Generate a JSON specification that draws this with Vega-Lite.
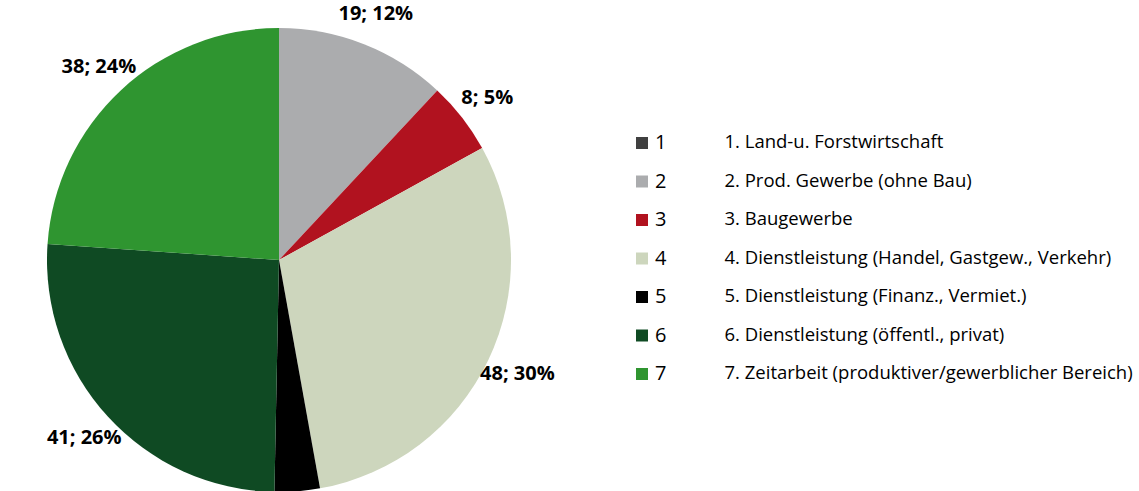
{
  "$schema": "https://vega.github.io/schema/vega-lite/v6.json",
  "width": 558,
  "height": 491,
  "autosize": {"type": "none"},
  "padding": {"left": 0, "top": 0, "right": 581, "bottom": 0},
  "config": {"view": {"stroke": null}, "font": "Open Sans"},
  "data": {
    "values": [
      {"cat": "1", "desc": "1.  Land-u. Forstwirtschaft", "value": 0, "label": ""},
      {"cat": "2", "desc": "2. Prod. Gewerbe (ohne Bau)", "value": 19, "label": "19; 12%"},
      {"cat": "3", "desc": "3. Baugewerbe", "value": 8, "label": "8; 5%"},
      {"cat": "4", "desc": "4. Dienstleistung (Handel, Gastgew., Verkehr)", "value": 48, "label": "48; 30%"},
      {"cat": "5", "desc": "5. Dienstleistung (Finanz., Vermiet.)", "value": 5, "label": ""},
      {"cat": "6", "desc": "6. Dienstleistung (öffentl., privat)", "value": 41, "label": "41; 26%"},
      {"cat": "7", "desc": "7. Zeitarbeit (produktiver/gewerblicher Bereich)", "value": 38, "label": "38; 24%"}
    ]
  },
  "encoding": {
    "theta": {"field": "value", "type": "quantitative", "stack": true},
    "order": {"field": "cat", "type": "ordinal"}
  },
  "layer": [
    {
      "mark": {"type": "arc", "radius": 232, "yOffset": 14.5, "strokeWidth": 0},
      "encoding": {
        "color": {
          "field": "cat",
          "type": "nominal",
          "scale": {
            "domain": ["1", "2", "3", "4", "5", "6", "7"],
            "range": ["#404040", "#ABACAE", "#B1121F", "#CDD6BD", "#000000", "#0F4A23", "#2F9530"]
          },
          "legend": {
            "orient": "none",
            "legendX": 632,
            "legendY": 133,
            "title": null,
            "padding": 0,
            "symbolType": "square",
            "symbolSize": 144,
            "symbolStrokeWidth": 0,
            "symbolOpacity": 1,
            "labelFontSize": 20,
            "labelOffset": 3,
            "labelColor": "#000000",
            "rowPadding": 18.5
          }
        },
        "opacity": {
          "field": "desc",
          "type": "ordinal",
          "scale": {"range": [1, 1]},
          "legend": {
            "orient": "none",
            "legendX": 706,
            "legendY": 133,
            "title": null,
            "padding": 0,
            "symbolSize": 0,
            "symbolOpacity": 0,
            "symbolStrokeWidth": 0,
            "labelFontSize": 18.5,
            "labelOffset": 0,
            "labelLimit": 600,
            "labelColor": "#000000",
            "rowPadding": 19.5
          }
        }
      }
    },
    {
      "mark": {"type": "text", "radius": 264, "yOffset": 14.5, "fontWeight": "bold", "fontSize": 20, "color": "#000000"},
      "encoding": {"text": {"field": "label", "type": "nominal"}}
    }
  ]
}
